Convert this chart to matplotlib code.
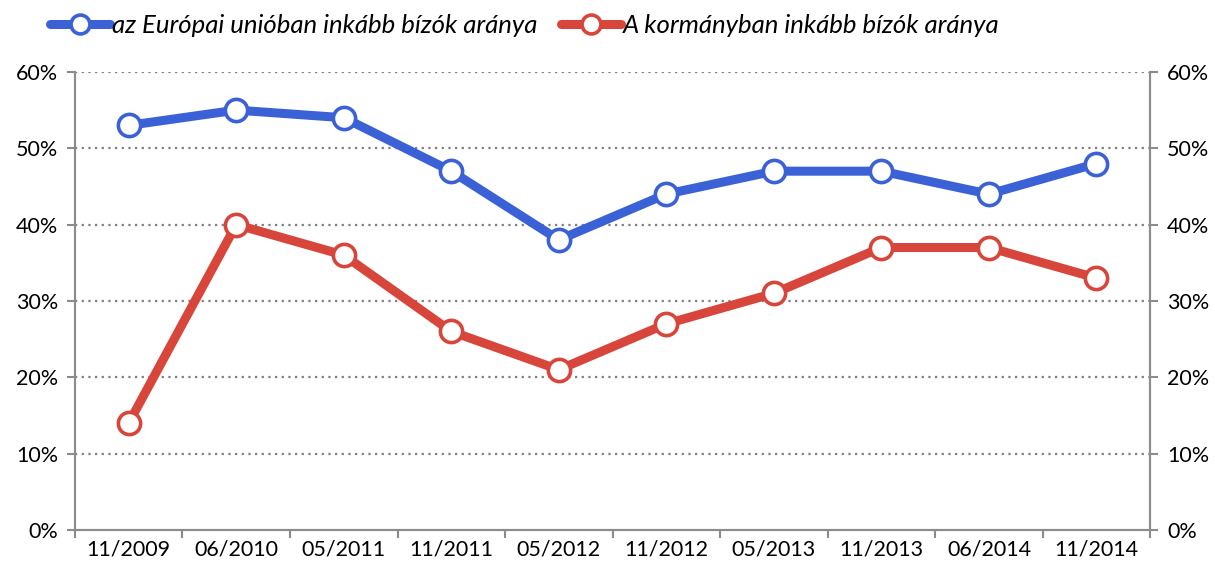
import matplotlib
matplotlib.use("Agg")
import matplotlib.pyplot as plt
from matplotlib.ticker import FuncFormatter, FixedLocator

# adatok
idopontok = ["11/2009", "06/2010", "05/2011", "11/2011", "05/2012",
             "11/2012", "05/2013", "11/2013", "06/2014", "11/2014"]
eu_bizalom = [53, 55, 54, 47, 38, 44, 47, 47, 44, 48]
kormany_bizalom = [14, 40, 36, 26, 21, 27, 31, 37, 37, 33]
sorozat_nevek = ["az Európai unióban inkább bízók aránya",
                 "A kormányban inkább bízók aránya"]

plt.rcParams['font.family'] = ['Lato', 'DejaVu Sans']

kek = '#3A61D5'
piros = '#D8453A'
szurke = '#8C8C8C'

fig = plt.figure(figsize=(12.15, 5.62), dpi=100)
ax = fig.add_axes([0.0617, 0.057, 0.885, 0.815])

x = list(range(len(idopontok)))
vonalak = []
for adat, szin, nev in [(eu_bizalom, kek, sorozat_nevek[0]),
                        (kormany_bizalom, piros, sorozat_nevek[1])]:
    l, = ax.plot(x, adat, color=szin, lw=6.5, marker='o', markersize=16,
                 markerfacecolor='white', markeredgecolor=szin,
                 markeredgewidth=2.6, label=nev, zorder=3,
                 solid_capstyle='round', solid_joinstyle='round')
    vonalak.append(l)

ax.set_xlim(-0.5, len(idopontok) - 0.5)
ax.set_ylim(0, 60)
ax.set_yticks(range(0, 61, 10))
pct = FuncFormatter(lambda v, p: f"{int(v)}%")
ax.yaxis.set_major_formatter(pct)
for y in range(10, 61, 10):
    ax.axhline(y, color='#7F7F7F', lw=1.6, ls=(0, (1, 2.0)), zorder=1)

ax.set_xticks(x)
ax.set_xticklabels(idopontok)
ax.xaxis.set_minor_locator(FixedLocator([i - 0.5 for i in range(len(idopontok) + 1)]))
ax.tick_params(axis='x', which='major', length=0, labelsize=15.5, pad=7)
ax.tick_params(axis='x', which='minor', length=6, color=szurke, width=1.5)
ax.tick_params(axis='y', length=6, color=szurke, width=1.5, labelsize=15.5, pad=6)

ax2 = ax.twinx()
ax2.set_ylim(0, 60)
ax2.set_yticks(range(0, 61, 10))
ax2.yaxis.set_major_formatter(pct)
ax2.tick_params(axis='y', length=6, color=szurke, width=1.5, labelsize=15.5, pad=6)

for a in (ax, ax2):
    a.spines['top'].set_visible(False)
    for s in ('left', 'right', 'bottom'):
        a.spines[s].set_color(szurke)
        a.spines[s].set_linewidth(1.5)

fig.legend(handles=vonalak, loc='center left', bbox_to_anchor=(0.041, 0.955),
           ncol=2, frameon=False, prop={'style': 'italic', 'size': 18.5},
           handlelength=2.35, handletextpad=0.08, columnspacing=0.9,
           borderpad=0, borderaxespad=0, markerscale=0.85)

fig.savefig("out.png", dpi=100)
